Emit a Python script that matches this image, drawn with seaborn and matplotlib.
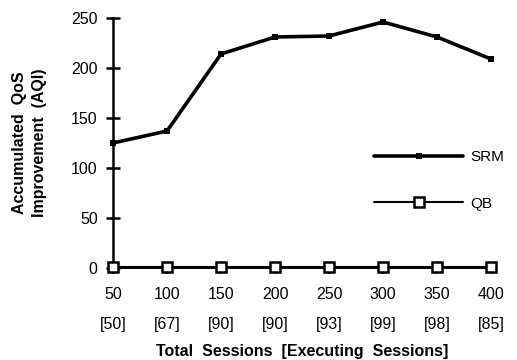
import pandas as pd
import seaborn as sns
import matplotlib.pyplot as plt

# Values
total_sessions = [50, 100, 150, 200, 250, 300, 350, 400]
executing_sessions = [50, 67, 90, 90, 93, 99, 98, 85]
srm = [125, 137, 214, 231, 232, 246, 231, 209]
qb = [1, 1, 1, 1, 1, 1, 1, 1]

df = pd.DataFrame({
    'sessions': total_sessions * 2,
    'aqi': srm + qb,
    'series': ['SRM'] * len(srm) + ['QB'] * len(qb),
})

sns.set_style("ticks", {'text.color': 'black', 'axes.labelcolor': 'black',
                        'xtick.color': 'black', 'ytick.color': 'black',
                        'axes.edgecolor': 'black'})
plt.rcParams['font.family'] = ['Liberation Sans', 'DejaVu Sans']

fig = plt.figure(figsize=(5.17, 3.6), dpi=100)
ax = fig.add_axes([0.2186, 0.2556, 0.7311, 0.6944])

sns.lineplot(x='sessions', y='aqi', data=df[df.series == 'SRM'], ax=ax,
             color='black', lw=2.6, marker='s', markersize=4.5,
             markeredgewidth=0, label='SRM', clip_on=False)
sns.lineplot(x='sessions', y='aqi', data=df[df.series == 'QB'], ax=ax,
             color='black', lw=1.5, marker='s', markersize=6.5,
             markerfacecolor='white', markeredgecolor='black',
             markeredgewidth=1.8, label='QB', clip_on=False, zorder=5)

ax.set_xlim(50, 400)
ax.set_ylim(0, 250)
ax.set_yticks([0, 50, 100, 150, 200, 250])
ax.set_xticks(total_sessions)
ax.set_xticklabels([f'{t}\n[{e}]' for t, e in zip(total_sessions, executing_sessions)],
                   linespacing=2.2)

sns.despine(ax=ax)
ax.spines['left'].set_linewidth(1.8)
ax.spines['bottom'].set_linewidth(1.4)
ax.tick_params(axis='y', direction='inout', length=10, width=1.8, pad=6, labelsize=11.5)
ax.tick_params(axis='x', direction='out', length=4, width=1.4, pad=10, labelsize=11.5)

ax.set_xlabel('Total  Sessions  [Executing  Sessions]', fontsize=11.5,
              fontweight='bold', labelpad=9)
ax.set_ylabel('Accumulated  QoS\nImprovement  (AQI)', fontsize=11.5,
              fontweight='bold', linespacing=1.4)
ax.yaxis.set_label_coords(-0.175, 0.5)

leg = ax.legend(loc='center left', bbox_to_anchor=(0.655, 0.35), frameon=False,
                handlelength=5.8, handletextpad=0.5, labelspacing=2.1, fontsize=11)
for t in leg.get_texts():
    t.set_color('black')

plt.savefig('out.png', dpi=100)
print("File successfully saved.")
